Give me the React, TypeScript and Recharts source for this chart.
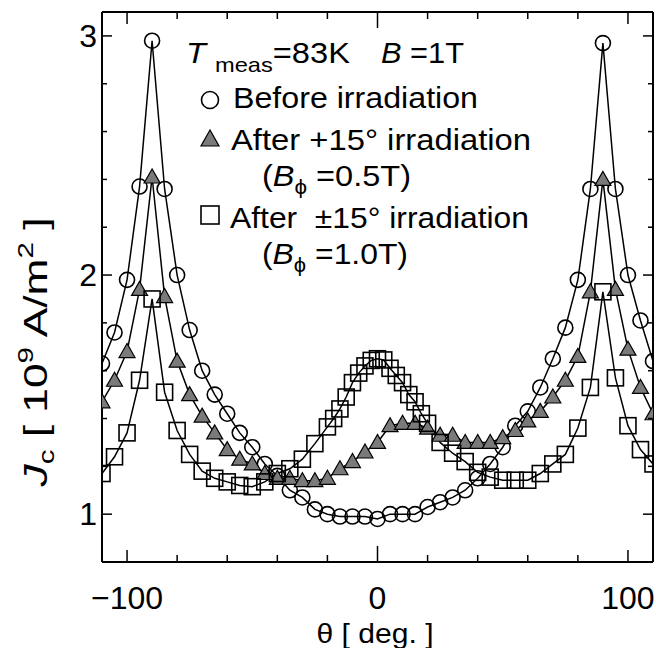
import React from 'react';
import { LineChart, Line, XAxis, YAxis, ReferenceLine } from 'recharts';

// angles (deg) for the circle and triangle series
const ANGLES = [
  -110, -105, -100, -95, -90, -85, -80, -75, -70, -65, -60, -55, -50, -45, -40, -35, -30, -25, -20, -15, -10, -5,
  0, 5, 10, 15, 20, 25, 30, 35, 40, 45, 50, 55, 60, 65, 70, 75, 80, 85, 90, 95, 100, 105, 110,
];

// Before irradiation (Jc, 10^9 A/m^2)
const BEFORE = [
  1.63, 1.76, 1.98, 2.37, 2.98, 2.36, 2.0, 1.77, 1.6, 1.5, 1.42, 1.34, 1.28, 1.21, 1.16, 1.1, 1.07, 1.02, 1.0, 0.99, 0.99, 0.99,
  0.98, 1.0, 1.0, 1.0, 1.03, 1.05, 1.07, 1.1, 1.15, 1.21, 1.28, 1.37, 1.43, 1.53, 1.65, 1.78, 1.98, 2.36, 2.97, 2.36, 2.0, 1.81, 1.64,
];

// After +15 deg irradiation (B_phi = 0.5T)
const AFTER_P15 = [
  1.47, 1.56, 1.68, 1.94, 2.41, 1.91, 1.64, 1.5, 1.41, 1.34, 1.27, 1.23, 1.21, 1.17, 1.15, 1.15, 1.14, 1.14, 1.15, 1.19, 1.22, 1.26,
  1.3, 1.37, 1.38, 1.38, 1.36, 1.33, 1.33, 1.3, 1.3, 1.3, 1.32, 1.35, 1.39, 1.43, 1.49, 1.56, 1.66, 1.93, 2.4, 1.94, 1.69, 1.53, 1.42,
];

// After +-15 deg irradiation (B_phi = 1.0T), denser sampling near 0
const SQ_ANGLES = [
  -110, -105, -100, -95, -90, -85, -80, -75, -70, -65, -60, -55, -50, -45, -40, -35, -30, -25,
  -20, -17.5, -15, -12.5, -10, -7.5, -5, -2.5, 0, 2.5, 5, 7.5, 10, 12.5, 15, 17.5, 20,
  25, 30, 35, 40, 45, 50, 55, 60, 65, 70, 75, 80, 85, 90, 95, 100, 105, 110,
];
const AFTER_PM15 = [
  1.17, 1.24, 1.34, 1.56, 1.9, 1.51, 1.35, 1.25, 1.18, 1.15, 1.135, 1.12, 1.115, 1.135, 1.17, 1.19, 1.23, 1.295,
  1.365, 1.4, 1.44, 1.49, 1.55, 1.59, 1.62, 1.643, 1.65, 1.645, 1.61, 1.58, 1.55, 1.5, 1.47, 1.42, 1.38,
  1.3, 1.255, 1.22, 1.175, 1.155, 1.142, 1.142, 1.142, 1.17, 1.21, 1.25, 1.36, 1.53, 1.93, 1.57, 1.37, 1.27, 1.21,
];

const X_TICKS = [-100, -80, -60, -40, -20, 0, 20, 40, 60, 80, 100];
const X_MAJOR = [-100, 0, 100];
const Y_TICKS = [1, 1.2, 1.4, 1.6, 1.8, 2, 2.2, 2.4, 2.6, 2.8, 3];
const Y_MAJOR = [1, 2, 3];

const W = 656;
const H = 648;
const MARGIN = { top: 12, right: 3, bottom: 0, left: 0 };
const X_AXIS_H = 86;
const Y_AXIS_W = 102;
const PLOT_TOP = MARGIN.top;
const PLOT_RIGHT = W - MARGIN.right;
const FONT = '"Liberation Sans", Arial, Helvetica, sans-serif';

const before = ANGLES.map((t, i) => ({ theta: t, jc: BEFORE[i] }));
const afterP = ANGLES.map((t, i) => ({ theta: t, jc: AFTER_P15[i] }));
const afterPM = SQ_ANGLES.map((t, i) => ({ theta: t, jc: AFTER_PM15[i] }));

const fmtX = (v: number) => (v < 0 ? `\u2212${-v}` : `${v}`);

const XTick = (props: any) => {
  const { x, y, payload } = props;
  const v = payload.value;
  const major = X_MAJOR.includes(v);
  const len = v === 0 ? 16 : major ? 12 : 7;
  return (
    <g>
      <line x1={x} x2={x} y1={y} y2={y - len} stroke="#000" strokeWidth={1.5} />
      <line x1={x} x2={x} y1={PLOT_TOP} y2={PLOT_TOP + len} stroke="#000" strokeWidth={1.5} />
      {major && (
        <text x={x} y={y + 47} textAnchor="middle" fontSize={32} fontFamily={FONT} fill="#000">
          {fmtX(v)}
        </text>
      )}
    </g>
  );
};

const YTick = (props: any) => {
  const { x, y, payload } = props;
  const v = payload.value;
  const major = Y_MAJOR.includes(v);
  const len = major ? 10 : 5;
  return (
    <g>
      <line x1={x} x2={x + len} y1={y} y2={y} stroke="#000" strokeWidth={1.5} />
      <line x1={PLOT_RIGHT} x2={PLOT_RIGHT - len} y1={y} y2={y} stroke="#000" strokeWidth={1.5} />
      {major && (
        <text x={x - 5} y={y + 11} textAnchor="end" fontSize={32} fontFamily={FONT} fill="#000">
          {v}
        </text>
      )}
    </g>
  );
};

const CircleDot = (p: any) => (
  <circle key={`c-${p.index}`} cx={p.cx} cy={p.cy} r={7.5} fill="none" stroke="#000" strokeWidth={1.6} />
);

const TriDot = (p: any) => (
  <polygon
    key={`t-${p.index}`}
    points={`${p.cx},${p.cy - 8} ${p.cx - 8},${p.cy + 6} ${p.cx + 8},${p.cy + 6}`}
    fill="#7a7a7a"
    stroke="#000"
    strokeWidth={1.2}
  />
);

const SquareDot = (p: any) => (
  <rect key={`s-${p.index}`} x={p.cx - 8} y={p.cy - 8} width={16} height={16} fill="none" stroke="#000" strokeWidth={1.6} />
);

const Overlay = () => (
  <svg width={W} height={H} style={{ position: 'absolute', left: 0, top: 0, pointerEvents: 'none' }} fontFamily={FONT} fill="#000">
    {/* annotation block */}
    <text x={186} y={63} fontSize={29} textLength={164} lengthAdjust="spacingAndGlyphs">
      <tspan fontStyle="italic">T</tspan>
      <tspan fontSize={21} dx={8} dy={9}>meas</tspan>
      <tspan dy={-9}>=83K</tspan>
    </text>
    <text x={381} y={63} fontSize={29} textLength={83} lengthAdjust="spacingAndGlyphs" style={{ whiteSpace: 'pre' }}>
      <tspan fontStyle="italic">B</tspan>
      <tspan> =1T</tspan>
    </text>

    <circle cx={210} cy={100} r={8.5} fill="none" stroke="#000" strokeWidth={1.6} />
    <text x={233} y={108} fontSize={29} textLength={245} lengthAdjust="spacingAndGlyphs">Before irradiation</text>

    <polygon points="210,130 201,146 219,146" fill="#7a7a7a" stroke="#000" strokeWidth={1.2} />
    <text x={231} y={150} fontSize={29} textLength={300} lengthAdjust="spacingAndGlyphs">After +15° irradiation</text>
    <text x={262} y={186} fontSize={29} textLength={149} lengthAdjust="spacingAndGlyphs" style={{ whiteSpace: 'pre' }}>
      (<tspan fontStyle="italic">B</tspan>
      <tspan fontSize={20} dy={8}>ϕ</tspan>
      <tspan dy={-8}> =0.5T)</tspan>
    </text>

    <rect x={201} y={206} width={18} height={18} fill="none" stroke="#000" strokeWidth={1.6} />
    <text x={230} y={228} fontSize={29} textLength={299} lengthAdjust="spacingAndGlyphs" style={{ whiteSpace: 'pre' }}>After  ±15° irradiation</text>
    <text x={262} y={264} fontSize={29} textLength={146} lengthAdjust="spacingAndGlyphs" style={{ whiteSpace: 'pre' }}>
      (<tspan fontStyle="italic">B</tspan>
      <tspan fontSize={20} dy={8}>ϕ</tspan>
      <tspan dy={-8}> =1.0T)</tspan>
    </text>

    {/* axis titles */}
    <text x={375} y={643} fontSize={28} textAnchor="middle" textLength={117} lengthAdjust="spacingAndGlyphs" style={{ whiteSpace: 'pre' }}>
      θ [ deg. ]
    </text>
    <text
      transform="translate(47,352) rotate(-90)"
      fontSize={33}
      textAnchor="middle"
      textLength={269}
      lengthAdjust="spacingAndGlyphs"
      style={{ whiteSpace: 'pre' }}
    >
      <tspan fontStyle="italic">J</tspan>
      <tspan fontSize={22} dy={7}>c</tspan>
      <tspan dy={-7}> [ 10</tspan>
      <tspan fontSize={22} dy={-14}>9</tspan>
      <tspan dy={14}> A/m</tspan>
      <tspan fontSize={22} dy={-14}>2</tspan>
      <tspan dy={14}> ]</tspan>
    </text>
  </svg>
);

export default function App() {
  return (
    <div style={{ position: 'absolute', left: 0, top: 0, width: W, height: H, background: '#fff' }}>
      <LineChart width={W} height={H} margin={MARGIN}>
        <XAxis
          dataKey="theta"
          type="number"
          domain={[-110, 110]}
          ticks={X_TICKS}
          interval={0}
          allowDataOverflow
          height={X_AXIS_H}
          tickLine={false}
          tickSize={0}
          tickMargin={0}
          tick={<XTick />}
          axisLine={{ stroke: '#000', strokeWidth: 2 }}
        />
        <YAxis
          type="number"
          domain={[0.8, 3.1]}
          ticks={Y_TICKS}
          interval={0}
          allowDataOverflow
          width={Y_AXIS_W}
          tickLine={false}
          tickSize={0}
          tickMargin={0}
          tick={<YTick />}
          axisLine={{ stroke: '#000', strokeWidth: 2 }}
        />
        <ReferenceLine y={3.1} stroke="#000" strokeWidth={2} />
        <ReferenceLine x={110} stroke="#000" strokeWidth={2} />
        <Line data={before} dataKey="jc" type="linear" stroke="#000" strokeWidth={1.5} dot={CircleDot} isAnimationActive={false} />
        <Line data={afterP} dataKey="jc" type="linear" stroke="#000" strokeWidth={1.5} dot={TriDot} isAnimationActive={false} />
        <Line data={afterPM} dataKey="jc" type="linear" stroke="#000" strokeWidth={1.5} dot={SquareDot} isAnimationActive={false} />
      </LineChart>
      <Overlay />
    </div>
  );
}
